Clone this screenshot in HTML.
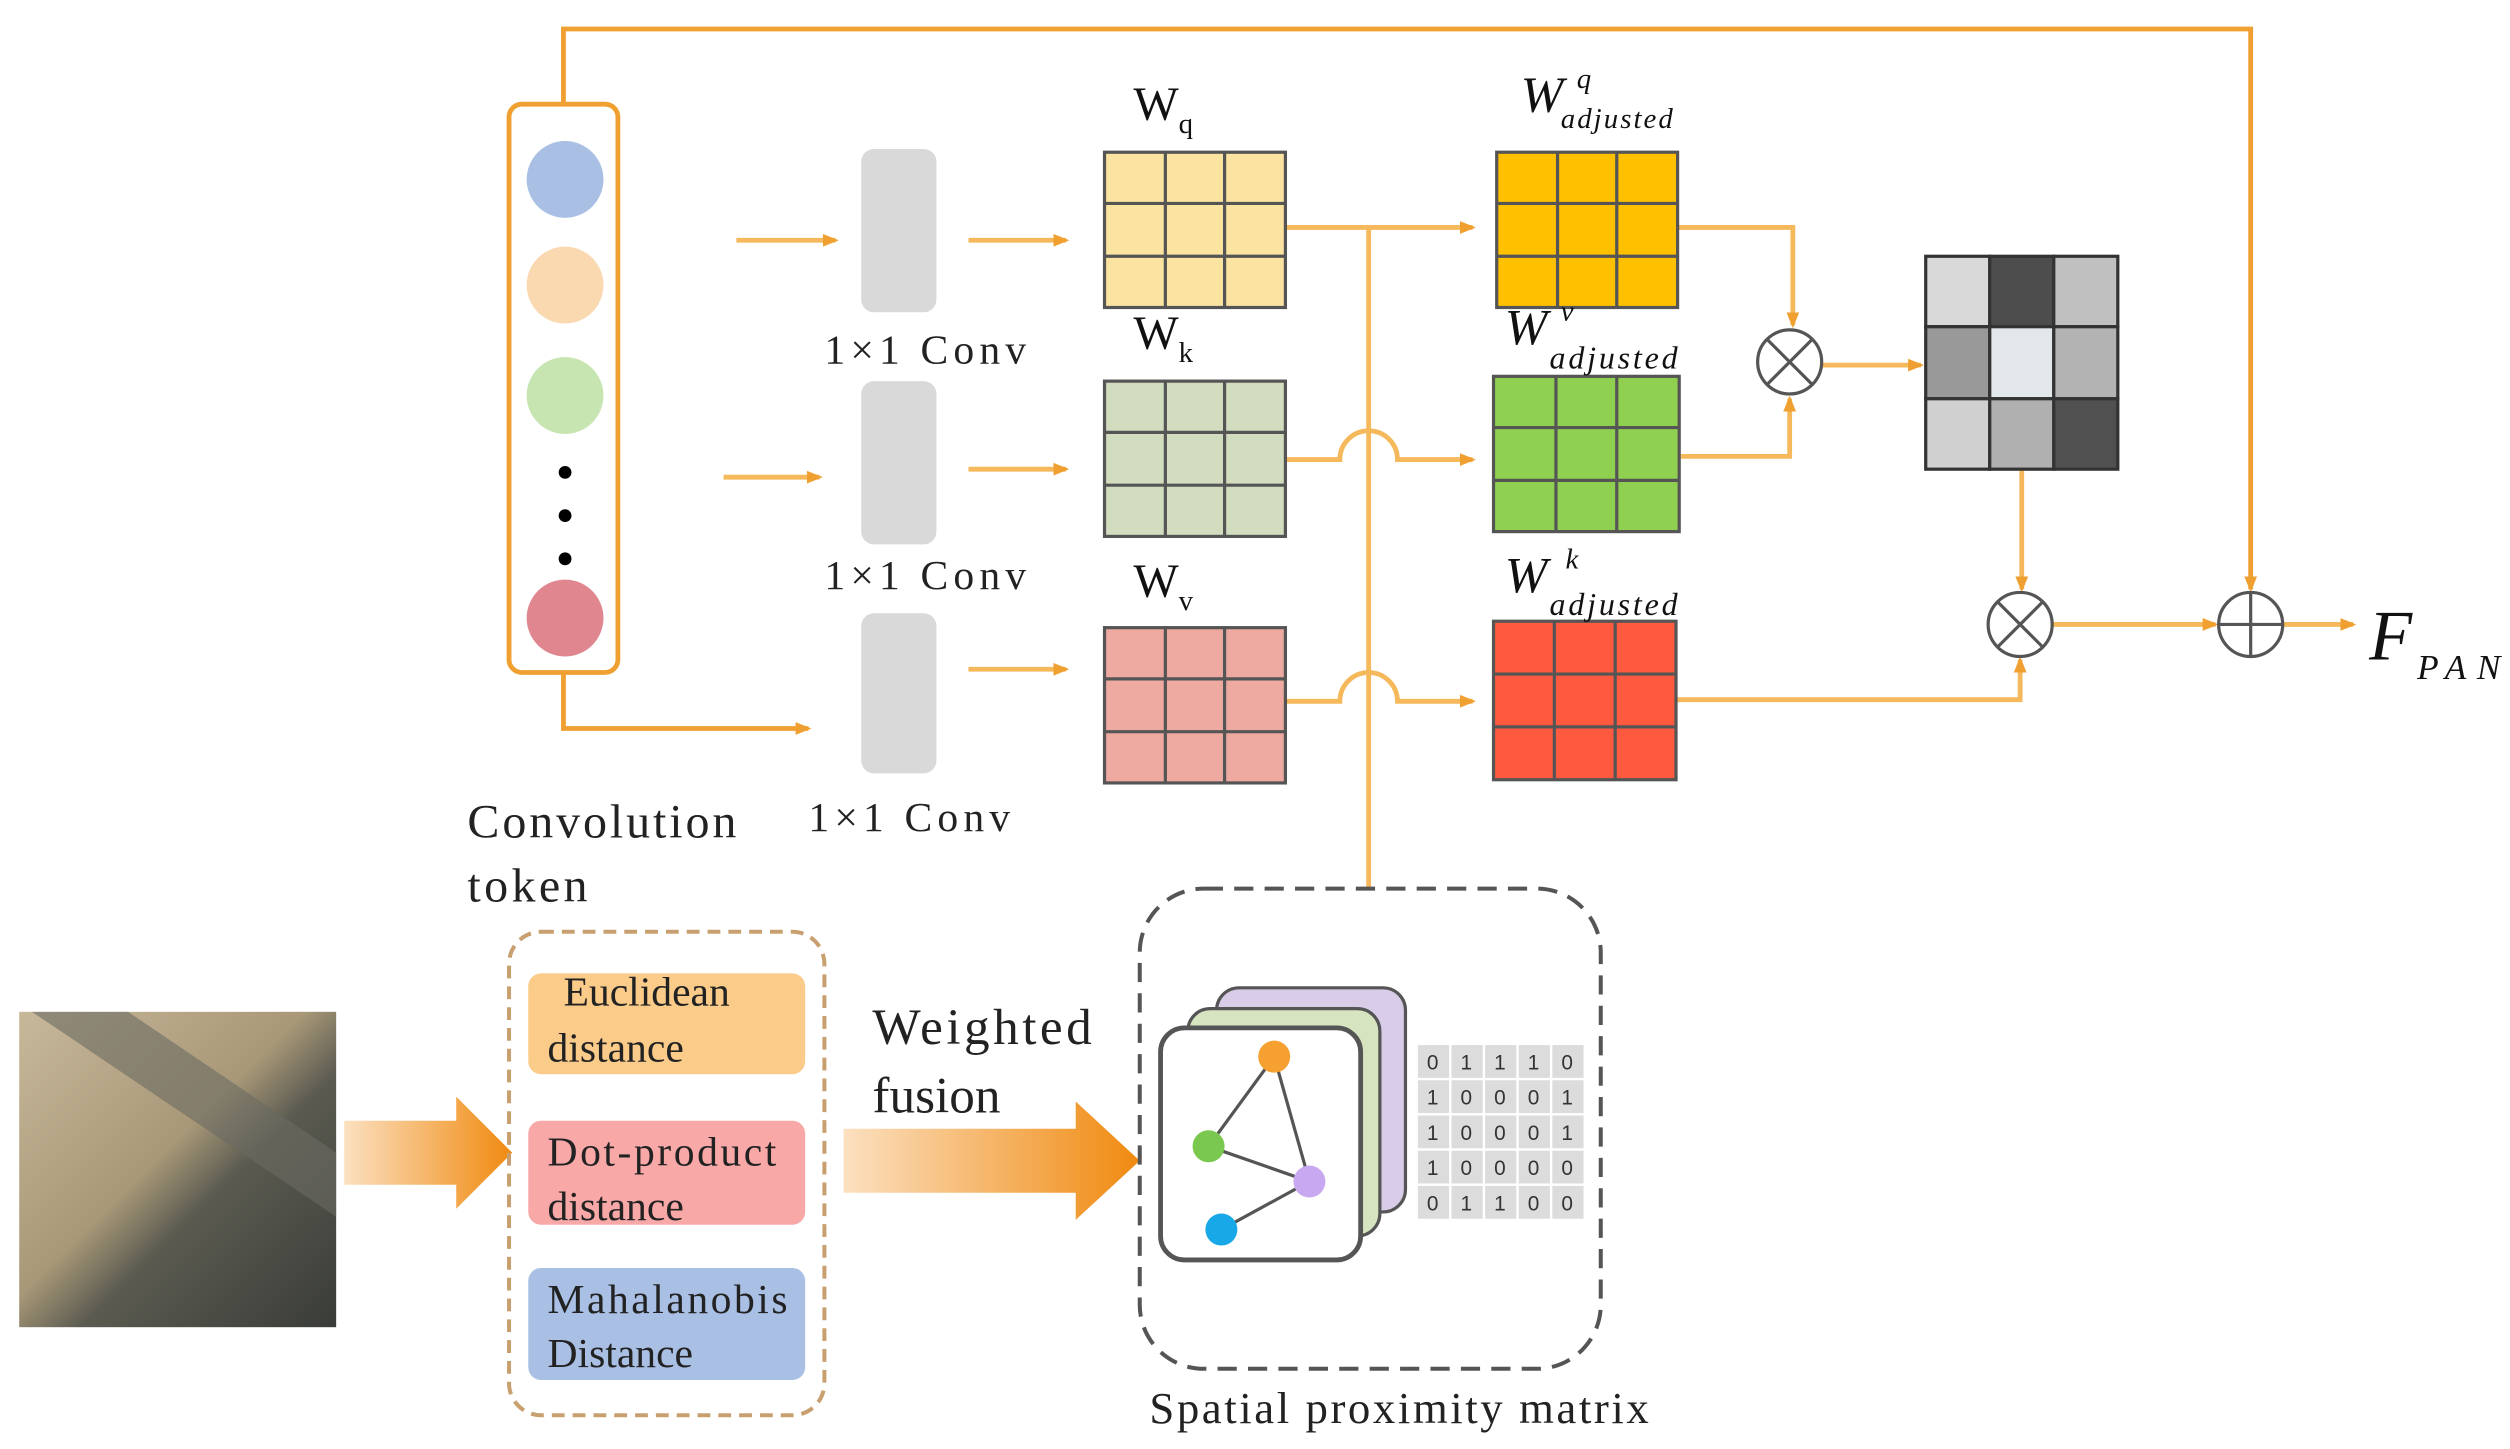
<!DOCTYPE html>
<html><head><meta charset="utf-8"><style>html,body{margin:0;padding:0;background:#fff}svg{display:block}</style></head>
<body>
<svg width="2510" height="1449" viewBox="0 0 1568 905" xmlns="http://www.w3.org/2000/svg" font-family="Liberation Serif, serif">
<defs>
<marker id="ah" markerWidth="10" markerHeight="10" refX="8" refY="5" orient="auto" markerUnits="userSpaceOnUse"><path d="M0,1 L10,5 L0,9 z" fill="#f0a030"/></marker>
<linearGradient id="ga" x1="0" x2="1"><stop offset="0" stop-color="#fbe0c0"/><stop offset="1" stop-color="#f08a10"/></linearGradient>
<linearGradient id="sat" x1="0" y1="0" x2="1" y2="1"><stop offset="0" stop-color="#c8b89a"/><stop offset="0.45" stop-color="#a89878"/><stop offset="0.6" stop-color="#5a5a50"/><stop offset="1" stop-color="#3a3c38"/></linearGradient>
</defs>
<g fill="none" stroke="#f0a030" stroke-width="3">
<polyline points="352,65 352,18 1406,18 1406,368" marker-end="url(#ah)"/>
<polyline points="352,420 352,455 505,455" marker-end="url(#ah)"/>
</g>
<g fill="none" stroke="#f5b85a" stroke-width="3">
<line x1="460" y1="150" x2="522" y2="150" marker-end="url(#ah)"/>
<line x1="452" y1="298" x2="512" y2="298" marker-end="url(#ah)"/>
<line x1="605" y1="150" x2="666" y2="150" marker-end="url(#ah)"/>
<line x1="605" y1="293" x2="666" y2="293" marker-end="url(#ah)"/>
<line x1="605" y1="418" x2="666" y2="418" marker-end="url(#ah)"/>
<polyline points="803,142 920,142" marker-end="url(#ah)"/>
<line x1="855" y1="142" x2="855" y2="555"/>
<path d="M803,287 L837,287 A18,18 0 0 1 873,287 L920,287" marker-end="url(#ah)"/>
<path d="M803,438 L837,438 A18,18 0 0 1 873,438 L920,438" marker-end="url(#ah)"/>
<polyline points="1048,142 1120,142 1120,203" marker-end="url(#ah)"/>
<polyline points="1050,285 1118,285 1118,249" marker-end="url(#ah)"/>
<line x1="1138" y1="228" x2="1200" y2="228" marker-end="url(#ah)"/>
<polyline points="1263,293 1263,368" marker-end="url(#ah)"/>
<polyline points="1047,437 1262,437 1262,412" marker-end="url(#ah)"/>
<line x1="1282" y1="390" x2="1384" y2="390" marker-end="url(#ah)"/>
<line x1="1426" y1="390" x2="1470" y2="390" marker-end="url(#ah)"/>
</g>
<rect x="318" y="65" width="68" height="355" rx="8" fill="#fff" stroke="#f0a030" stroke-width="3"/>
<circle cx="353" cy="112" r="24" fill="#a9c0e4"/>
<circle cx="353" cy="178" r="24" fill="#fad8b0"/>
<circle cx="353" cy="247" r="24" fill="#c6e5b0"/>
<circle cx="353" cy="295" r="4" fill="#000"/><circle cx="353" cy="322" r="4" fill="#000"/><circle cx="353" cy="349" r="4" fill="#000"/>
<circle cx="353" cy="386" r="24" fill="#e0868f"/>
<rect x="538" y="93" width="47" height="102" rx="8" fill="#d9d9d9"/>
<rect x="538" y="238" width="47" height="102" rx="8" fill="#d9d9d9"/>
<rect x="538" y="383" width="47" height="100" rx="8" fill="#d9d9d9"/>
<g font-size="26" fill="#222"><text x="515" y="227" textLength="126">1×1 Conv</text><text x="515" y="368" textLength="126">1×1 Conv</text><text x="505" y="519" textLength="126">1×1 Conv</text></g>
<g stroke="#555" stroke-width="2">
<rect x="690" y="95" width="113" height="97" fill="#fbe3a0"/><path d="M728,95V192M765,95V192M690,127H803M690,160H803"/>
<rect x="690" y="238" width="113" height="97" fill="#d2ddc0"/><path d="M728,238V335M765,238V335M690,270H803M690,303H803"/>
<rect x="690" y="392" width="113" height="97" fill="#eeaaa0"/><path d="M728,392V489M765,392V489M690,424H803M690,457H803"/>
<rect x="935" y="95" width="113" height="97" fill="#ffc000"/><path d="M973,95V192M1010,95V192M935,127H1048M935,160H1048"/>
<rect x="933" y="235" width="116" height="97" fill="#8fd050"/><path d="M972,235V332M1010,235V332M933,267H1049M933,300H1049"/>
<rect x="933" y="388" width="114" height="99" fill="#ff5a40"/><path d="M971,388V487M1009,388V487M933,421H1047M933,454H1047"/>
</g>
<g font-size="30" fill="#111">
<text x="708" y="75">W<tspan font-size="18" dy="8">q</tspan></text>
<text x="708" y="218">W<tspan font-size="18" dy="8">k</tspan></text>
<text x="708" y="373">W<tspan font-size="18" dy="8">v</tspan></text>
</g>
<g font-style="italic" fill="#111">
<text x="950" y="70" font-size="32">W</text><text x="985" y="55" font-size="18">q</text><text x="975" y="80" font-size="18" textLength="70">adjusted</text>
<text x="940" y="215" font-size="32">W</text><text x="975" y="200" font-size="18">v</text><text x="968" y="230" font-size="20" textLength="80">adjusted</text>
<text x="940" y="370" font-size="32">W</text><text x="978" y="355" font-size="18">k</text><text x="968" y="384" font-size="20" textLength="80">adjusted</text>
<text x="1480" y="412" font-size="44">F</text><text x="1510" y="424" font-size="22" textLength="52">PAN</text>
</g>
<g stroke="#333" stroke-width="2">
<rect x="1203" y="160" width="40" height="44" fill="#d9d9d9"/><rect x="1243" y="160" width="40" height="44" fill="#4d4d4d"/><rect x="1283" y="160" width="40" height="44" fill="#c0c0c0"/>
<rect x="1203" y="204" width="40" height="45" fill="#999"/><rect x="1243" y="204" width="40" height="45" fill="#e2e8ea"/><rect x="1283" y="204" width="40" height="45" fill="#b3b3b3"/>
<rect x="1203" y="249" width="40" height="44" fill="#d0d0d0"/><rect x="1243" y="249" width="40" height="44" fill="#b0b0b0"/><rect x="1283" y="249" width="40" height="44" fill="#505050"/>
</g>
<g fill="#fff" stroke="#555" stroke-width="2">
<circle cx="1118" cy="226" r="20"/><path d="M1104,212L1132,240M1132,212L1104,240"/>
<circle cx="1262" cy="390" r="20"/><path d="M1248,376L1276,404M1276,376L1248,404"/>
<circle cx="1406" cy="390" r="20"/><path d="M1386,390H1426M1406,370V410"/>
</g>
<g font-size="30" fill="#222"><text x="292" y="523" textLength="168">Convolution</text><text x="292" y="563" textLength="75">token</text></g>
<rect x="12" y="632" width="198" height="197" fill="url(#sat)"/>
<path d="M20,632 L80,632 L210,720 L210,760 Z" fill="#6a6a62" opacity="0.6"/>
<path d="M215,700 L285,700 L285,685 L320,720 L285,755 L285,740 L215,740 Z" fill="url(#ga)"/>
<rect x="318" y="582" width="197" height="302" rx="20" fill="none" stroke="#c8a070" stroke-width="2.5" stroke-dasharray="8,5"/>
<rect x="330" y="608" width="173" height="63" rx="8" fill="#fbcb8a"/>
<rect x="330" y="700" width="173" height="65" rx="8" fill="#f9a8a8"/>
<rect x="330" y="792" width="173" height="70" rx="8" fill="#a9c0e4"/>
<g font-size="26" fill="#222">
<text x="352" y="628">Euclidean</text><text x="342" y="663">distance</text>
<text x="342" y="728" textLength="143">Dot-product</text><text x="342" y="762">distance</text>
<text x="342" y="820" textLength="150">Mahalanobis</text><text x="342" y="854">Distance</text>
</g>
<g font-size="32" fill="#222"><text x="545" y="652" textLength="137">Weighted</text><text x="545" y="695">fusion</text></g>
<path d="M527,705 L672,705 L672,688 L712,725 L672,762 L672,745 L527,745 Z" fill="url(#ga)"/>
<rect x="712" y="555" width="288" height="300" rx="40" fill="none" stroke="#555" stroke-width="2.5" stroke-dasharray="12,7"/>
<rect x="760" y="617" width="118" height="140" rx="14" fill="#d9cce8" stroke="#555" stroke-width="2"/>
<rect x="742" y="630" width="120" height="142" rx="14" fill="#d6e4c0" stroke="#555" stroke-width="2"/>
<rect x="725" y="642" width="125" height="145" rx="15" fill="#fff" stroke="#555" stroke-width="3"/>
<g stroke="#555" stroke-width="2"><path d="M796,660L755,716M796,660L818,738M818,738L763,768M755,716L818,738"/></g>
<circle cx="796" cy="660" r="10" fill="#f5a030"/><circle cx="755" cy="716" r="10" fill="#7ac850"/><circle cx="818" cy="738" r="10" fill="#c8a8f0"/><circle cx="763" cy="768" r="10" fill="#18a8e8"/>
<g stroke="#fff" stroke-width="1.5" fill="#dcdcdc"><rect x="885" y="652" width="105" height="110"/></g>
<g stroke="#fff" stroke-width="1.5"><path d="M906,652V762M927,652V762M948,652V762M969,652V762M885,674H990M885,696H990M885,718H990M885,740H990"/></g>
<g font-size="13" fill="#333" text-anchor="middle" font-family="Liberation Sans, sans-serif">
<text x="895" y="668">0</text><text x="916" y="668">1</text><text x="937" y="668">1</text><text x="958" y="668">1</text><text x="979" y="668">0</text>
<text x="895" y="690">1</text><text x="916" y="690">0</text><text x="937" y="690">0</text><text x="958" y="690">0</text><text x="979" y="690">1</text>
<text x="895" y="712">1</text><text x="916" y="712">0</text><text x="937" y="712">0</text><text x="958" y="712">0</text><text x="979" y="712">1</text>
<text x="895" y="734">1</text><text x="916" y="734">0</text><text x="937" y="734">0</text><text x="958" y="734">0</text><text x="979" y="734">0</text>
<text x="895" y="756">0</text><text x="916" y="756">1</text><text x="937" y="756">1</text><text x="958" y="756">0</text><text x="979" y="756">0</text>
</g>
<text x="718" y="889" font-size="28" fill="#222" textLength="312">Spatial proximity matrix</text>
</svg>
</body></html>
